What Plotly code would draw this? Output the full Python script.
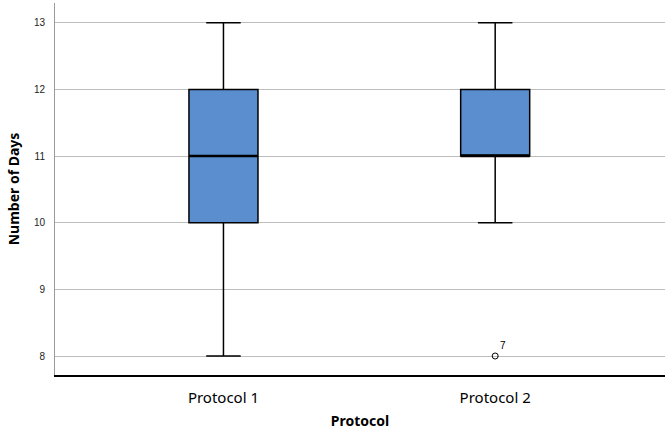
import plotly.graph_objects as go

# --- Data ---
protocols = ["Protocol 1", "Protocol 2"]
q1 = [10, 11]
median = [11, 11]
q3 = [12, 12]
lower_fence = [8, 10]
upper_fence = [13, 13]

# outliers: category, value, case label
outlier_x = ["Protocol 2"]
outlier_y = [8]
outlier_case = ["7"]

y_ticks = [8, 9, 10, 11, 12, 13]

BOX_W = 0.254

fig = go.Figure()

fig.add_trace(go.Box(
    x=protocols,
    q1=q1,
    median=median,
    q3=q3,
    lowerfence=lower_fence,
    upperfence=upper_fence,
    boxpoints=False,
    width=BOX_W,
    whiskerwidth=0.5,
    fillcolor="#5A8ECE",
    line=dict(color="black", width=1.5),
    showlegend=False,
    hoverinfo="skip",
))

# SPSS draws the median heavier - flat box on the median only
fig.add_trace(go.Box(
    x=protocols,
    q1=median,
    median=median,
    q3=median,
    lowerfence=median,
    upperfence=median,
    boxpoints=False,
    width=BOX_W,
    whiskerwidth=0,
    fillcolor="rgba(0,0,0,0)",
    line=dict(color="black", width=2.5),
    showlegend=False,
    hoverinfo="skip",
))

fig.add_trace(go.Scatter(
    x=outlier_x,
    y=outlier_y,
    mode="markers+text",
    text=outlier_case,
    textposition="top right",
    textfont=dict(family="Liberation Sans", size=10, color="black"),
    marker=dict(symbol="circle-open", size=6, color="black", line=dict(width=1)),
    showlegend=False,
))

fig.update_layout(
    width=666,
    height=434,
    margin=dict(l=55, r=1, t=3, b=59),
    plot_bgcolor="white",
    paper_bgcolor="white",
    font=dict(family="Noto Sans", color="black"),
    boxmode="overlay",
)

fig.update_xaxes(
    type="category",
    range=[-0.62, 1.625],
    automargin=False,
    showline=True,
    linecolor="black",
    linewidth=2,
    showgrid=False,
    ticks="outside",
    ticklen=8,
    tickcolor="white",
    tickfont=dict(family="Noto Sans", size=15, color="black"),
    title=dict(text="<b>Protocol</b>", font=dict(family="Noto Sans", size=14), standoff=10),
)

fig.update_yaxes(
    range=[7.715, 13.296],
    tickvals=y_ticks,
    automargin=False,
    showline=True,
    linecolor="#9a9a9a",
    linewidth=1,
    showgrid=True,
    gridcolor="#bdbdbd",
    gridwidth=1,
    zeroline=False,
    ticks="outside",
    ticklen=7,
    tickcolor="white",
    tickfont=dict(family="Liberation Sans", size=10, color="#222222"),
    title=dict(text="<b>Number of Days</b>", font=dict(family="Noto Sans", size=14), standoff=10),
)

# page has a default 8px body margin - drop it so the figure sits at 0,0
fig.write_html("out.html", config={"displayModeBar": False},
               post_script="document.body.style.margin='0';")
